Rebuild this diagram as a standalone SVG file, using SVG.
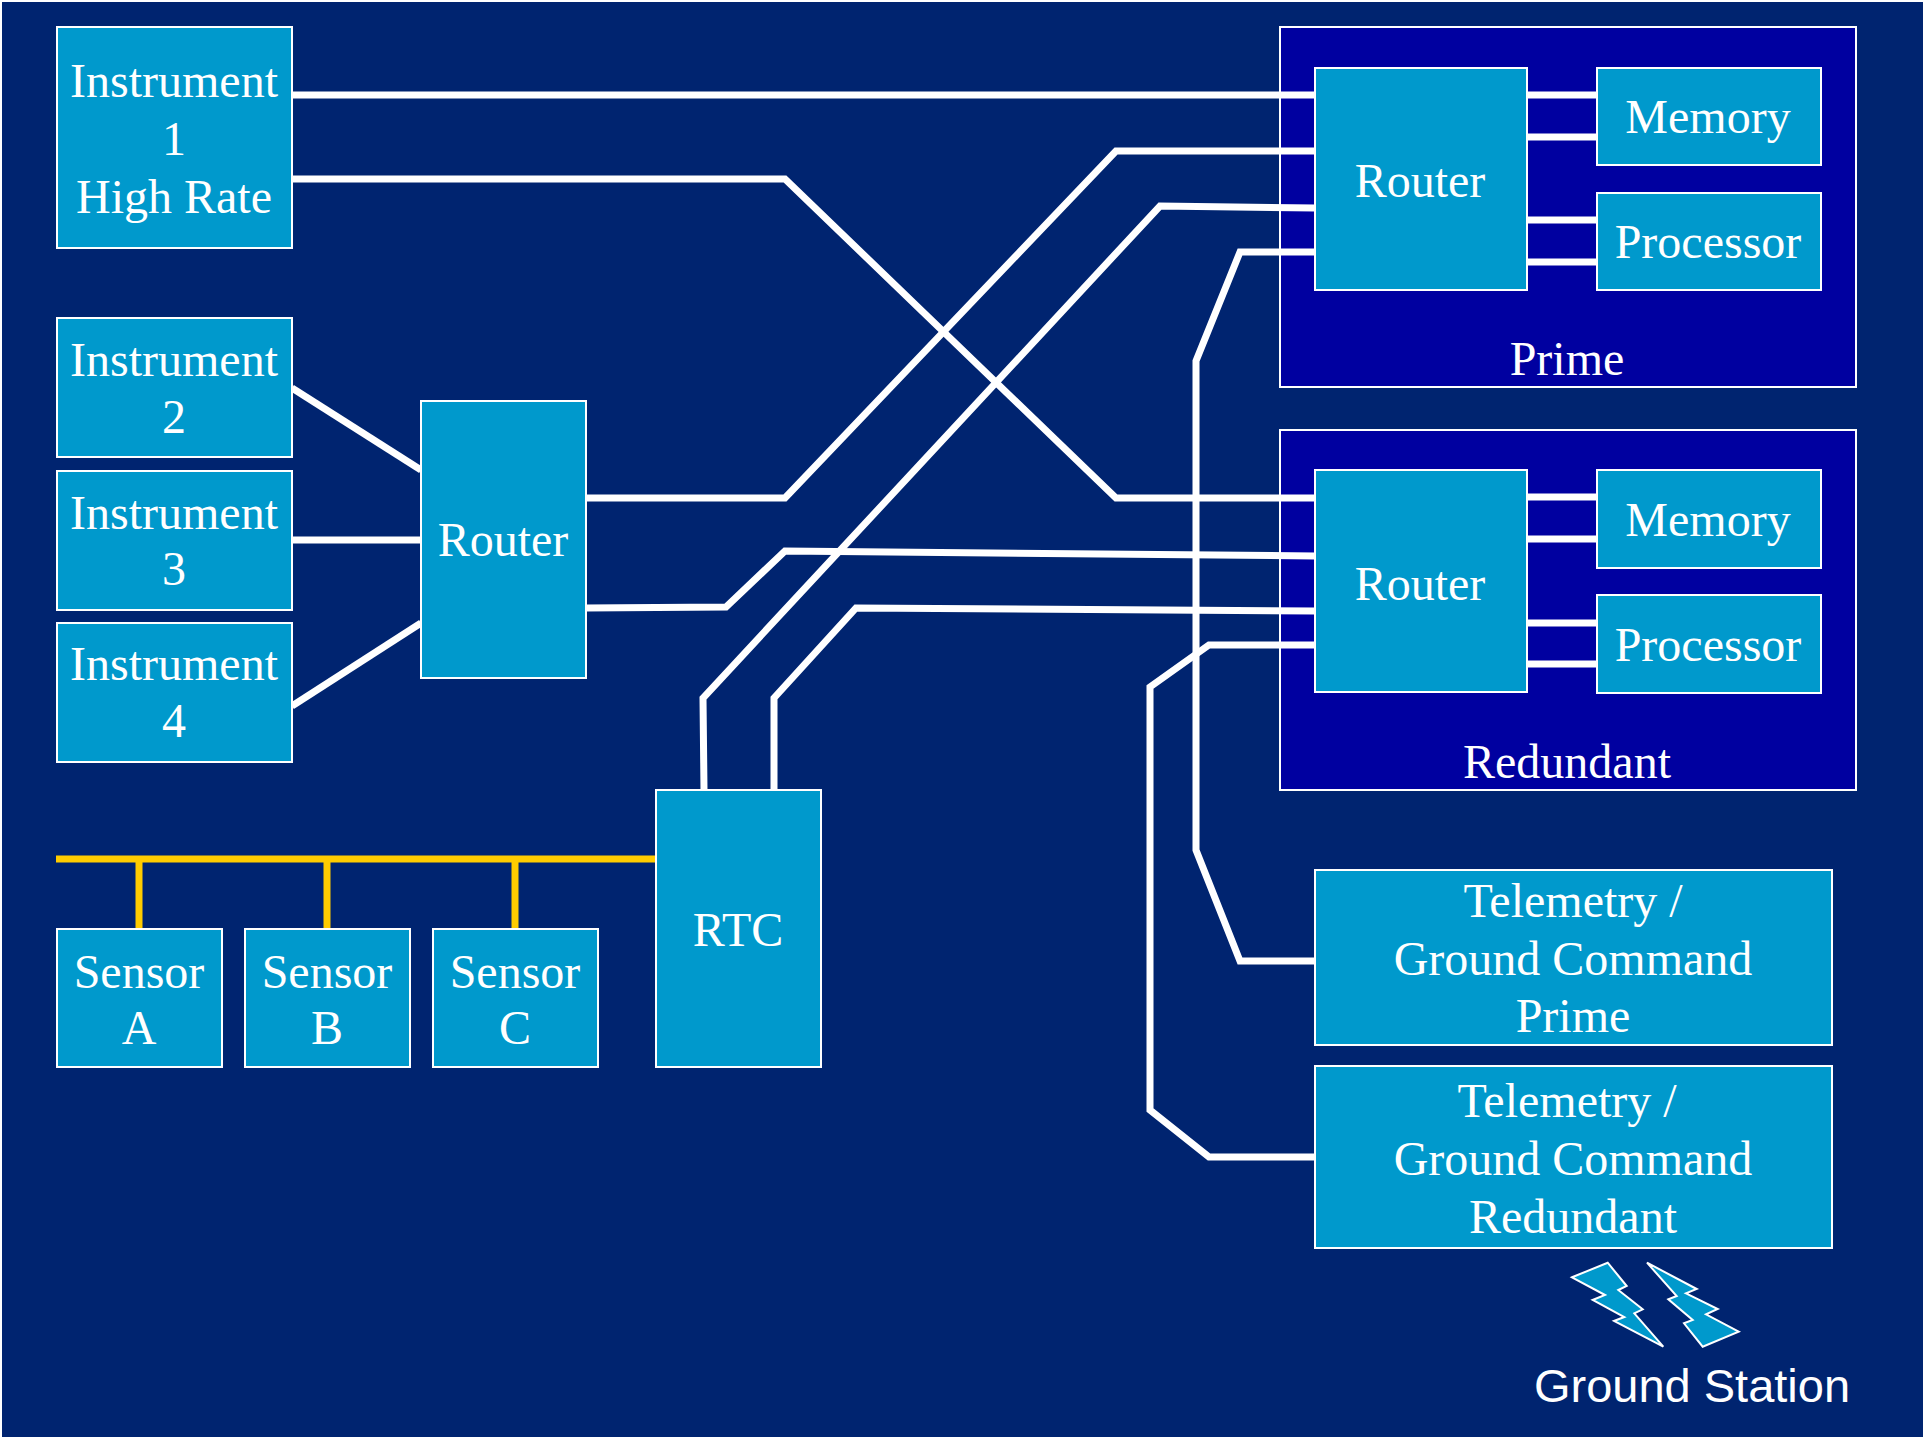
<svg xmlns="http://www.w3.org/2000/svg" width="1923" height="1437" viewBox="0 0 1923 1437">
<style>
.box{fill:#0099cc;stroke:#fff;stroke-width:2}
.cont{fill:#0000a0;stroke:#fff;stroke-width:2}
.w{fill:none;stroke:#fff;stroke-width:7;stroke-linejoin:miter}
.y{fill:none;stroke:#ffcc00;stroke-width:7}
text{font-family:"Liberation Serif","Times New Roman",serif;font-size:48px;fill:#fff;text-anchor:middle}
.gs{font-family:"Liberation Sans",Arial,sans-serif;font-size:47px}
</style>
<rect width="1923" height="1437" fill="#fff"/>
<rect x="2" y="2" width="1921" height="1435" fill="#002470"/>
<g id="prime-container"><rect class="cont" x="1280" y="27" width="576" height="360"/><text x="1567" y="375">Prime</text></g>
<g id="redundant-container"><rect class="cont" x="1280" y="430" width="576" height="360"/><text x="1567" y="778">Redundant</text></g>
<g id="connectors">
<path class="w" d="M292 95H1315"/>
<path class="w" d="M292 179H785L1116 498H1315"/>
<path class="w" d="M586 498H785L1116 151H1315"/>
<path class="w" d="M704 790L703 698L1160 206L1315 208"/>
<path class="w" d="M1315 252H1240L1196 361V850L1240 961H1315"/>
<path class="w" d="M586 608L726 607L785 551L1315 556"/>
<path class="w" d="M774 790V698L856 608L1315 611"/>
<path class="w" d="M1315 645H1209L1150 687V1110L1209 1157H1315"/>
<path class="w" d="M292 388L421 470"/>
<path class="w" d="M292 540H421"/>
<path class="w" d="M292 706L421 623"/>
<path class="w" d="M1527 95H1597M1527 137H1597M1527 220H1597M1527 262H1597"/>
<path class="w" d="M1527 497H1597M1527 539H1597M1527 623H1597M1527 664H1597"/>
<path class="y" d="M56 859H656M139 859V929M327 859V929M515 859V929"/>
</g>
<g id="instrument-1"><rect class="box" x="57" y="27" width="235" height="221"/><text x="174" y="97">Instrument</text><text x="174" y="155">1</text><text x="174" y="213">High Rate</text></g>
<g id="instrument-2"><rect class="box" x="57" y="318" width="235" height="139"/><text x="174" y="376">Instrument</text><text x="174" y="433">2</text></g>
<g id="instrument-3"><rect class="box" x="57" y="471" width="235" height="139"/><text x="174" y="529">Instrument</text><text x="174" y="585">3</text></g>
<g id="instrument-4"><rect class="box" x="57" y="623" width="235" height="139"/><text x="174" y="680">Instrument</text><text x="174" y="737">4</text></g>
<g id="router-main"><rect class="box" x="421" y="401" width="165" height="277"/><text x="503" y="556">Router</text></g>
<g id="rtc"><rect class="box" x="656" y="790" width="165" height="277"/><text x="738" y="946">RTC</text></g>
<g id="sensor-a"><rect class="box" x="57" y="929" width="165" height="138"/><text x="139" y="988">Sensor</text><text x="139" y="1044">A</text></g>
<g id="sensor-b"><rect class="box" x="245" y="929" width="165" height="138"/><text x="327" y="988">Sensor</text><text x="327" y="1044">B</text></g>
<g id="sensor-c"><rect class="box" x="433" y="929" width="165" height="138"/><text x="515" y="988">Sensor</text><text x="515" y="1044">C</text></g>
<g id="router-prime"><rect class="box" x="1315" y="68" width="212" height="222"/><text x="1420" y="197">Router</text></g>
<g id="memory-prime"><rect class="box" x="1597" y="68" width="224" height="97"/><text x="1708" y="133">Memory</text></g>
<g id="processor-prime"><rect class="box" x="1597" y="193" width="224" height="97"/><text x="1708" y="258">Processor</text></g>
<g id="router-redundant"><rect class="box" x="1315" y="470" width="212" height="222"/><text x="1420" y="600">Router</text></g>
<g id="memory-redundant"><rect class="box" x="1597" y="470" width="224" height="98"/><text x="1708" y="536">Memory</text></g>
<g id="processor-redundant"><rect class="box" x="1597" y="595" width="224" height="98"/><text x="1708" y="661">Processor</text></g>
<g id="telemetry-prime"><rect class="box" x="1315" y="870" width="517" height="175"/><text x="1573" y="917">Telemetry /</text><text x="1573" y="975">Ground Command</text><text x="1573" y="1032">Prime</text></g>
<g id="telemetry-redundant"><rect class="box" x="1315" y="1066" width="517" height="182"/><text x="1567" y="1117">Telemetry /</text><text x="1573" y="1175">Ground Command</text><text x="1573" y="1233">Redundant</text></g>
<g id="ground-station">
<polygon class="box" points="1572,1277.3 1607.7,1262.7 1626.7,1286 1618.3,1290 1642.7,1309.3 1634.3,1313.3 1663.3,1346.7 1614,1321 1624.3,1317 1592.7,1300 1605,1295"/>
<polygon class="box" points="1647,1262.7 1696.7,1289 1686,1293.3 1717.7,1309 1706,1314.3 1738.7,1331.7 1702.7,1346.7 1684,1323.3 1692.7,1320 1668.3,1299.3 1676.7,1296"/>
<text class="gs" x="1692" y="1402">Ground Station</text>
</g>
</svg>
